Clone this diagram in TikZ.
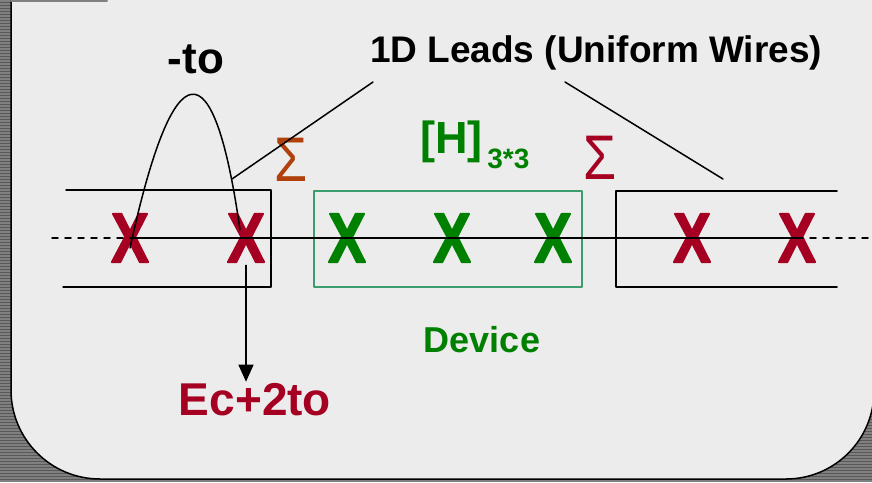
\documentclass[tikz,border=0pt]{standalone}
\usepackage{fontspec}
\setmainfont{Liberation Sans}
\newfontfamily\atomfont[FakeBold=3]{Liberation Sans Bold}
\usetikzlibrary{arrows.meta}
\definecolor{leadred}{RGB}{165,0,33}
\definecolor{devgreen}{RGB}{0,128,0}
\definecolor{boxgreen}{RGB}{60,158,110}
\definecolor{sigmabrown}{RGB}{176,65,12}
\definecolor{panelgray}{RGB}{236,236,236}
\definecolor{stripedark}{RGB}{88,88,88}
\definecolor{stripelight}{RGB}{128,128,128}
\newcommand{\fsz}[1]{\fontsize{#1}{#1}\selectfont}
\begin{document}
\begin{tikzpicture}[x=1pt,y=-1pt,line join=round,line cap=round,>={Triangle[width=15pt,length=17pt]}]
  \tikzset{atom/.style={inner sep=0pt,font=\fsz{56}\atomfont\bfseries,yscale=1.25},
           lbl/.style={inner sep=1pt,anchor=base,font=\bfseries},
           sig/.style={inner sep=0pt,font=\fsz{63},xscale=0.85},
           wire/.style={line width=1.5pt}}
  \useasboundingbox (0,0) rectangle (872,482);
  % striped backdrop and panel
  \fill[stripedark] (0,0) rectangle (872,482);
  \foreach \s in {0,3,...,480}
    \fill[stripelight] (0,\s) rectangle (872,\s+1.5);
  \fill[panelgray] (11,-5) -- (11,390) arc[start angle=180,end angle=90,radius=89]
    -- (786,479) arc[start angle=90,end angle=0,radius=88] -- (874,-5) -- cycle;
  \draw[wire] (11,-5) -- (11,390) arc[start angle=180,end angle=90,radius=89]
    -- (786,479) arc[start angle=90,end angle=0,radius=88] -- (874,-5);
  \draw[line width=2pt,gray] (11,0.5) -- (107,0.5);
  % lead and device boxes
  \draw[wire] (66,190) -| (271,287) -- (63,287);
  \draw[wire] (837,191) -- (616,191) -- (616,287) -- (837,287);
  \draw[boxgreen,line width=1.2pt] (314,191) rectangle (582,287);
  % sites
  \foreach \n/\x/\c in {1/130/leadred,2/246/leadred,3/347/devgreen,4/452/devgreen,5/553/devgreen,6/692/leadred,7/797/leadred}
    \node[atom,text=\c] (x\n) at (\x,238) {X};
  % labels
  \node[lbl,font=\fsz{37}\bfseries] (leads) at (596,62) {1D Leads (Uniform Wires)};
  \node[lbl,font=\fsz{44}\bfseries] (hop) at (196,73) {-to};
  \node[lbl,font=\fsz{45}\bfseries,text=devgreen,anchor=base west] (ham) at (419,153) {[H]\raisebox{-15pt}{\fsz{28}\,3*3}};
  \node[lbl,font=\fsz{36}\bfseries,text=devgreen] (device) at (482,352) {Device};
  \node[lbl,font=\fsz{46}\bfseries,text=leadred] (onsite) at (255,415) {Ec+2to};
  \node[sig,text=sigmabrown] (sigL) at (291,160) {Σ};
  \node[sig,text=leadred] (sigR) at (600,158) {Σ};
  % wire through the sites
  \coordinate (wireL) at (52,238);
  \coordinate (wireR) at (872,238);
  \draw[wire] (x1.center) -- (x7.center);
  \draw[wire,dash pattern=on 6pt off 7pt] (wireL) -- (x1.center);
  \draw[wire,dash pattern=on 6pt off 7pt] (x7.center) -- (wireR);
  % hopping between neighbours
  \coordinate (hopA) at (130,248);
  \coordinate (hopB) at (240,230);
  \draw[wire] (hopA) .. controls (174,46) and (214,46) .. (hopB);
  % leader lines
  \coordinate (leadsL) at (373,82);
  \coordinate (leadsR) at (565,82);
  \coordinate (leadL) at (232,179);
  \coordinate (leadR) at (723,179);
  \draw[wire] (leadsL) -- (leadL);
  \draw[wire] (leadsR) -- (leadR);
  \draw[wire,->,shorten <=3pt] (x2.south) -- (x2.south |- onsite.north);
\end{tikzpicture}
\end{document}
